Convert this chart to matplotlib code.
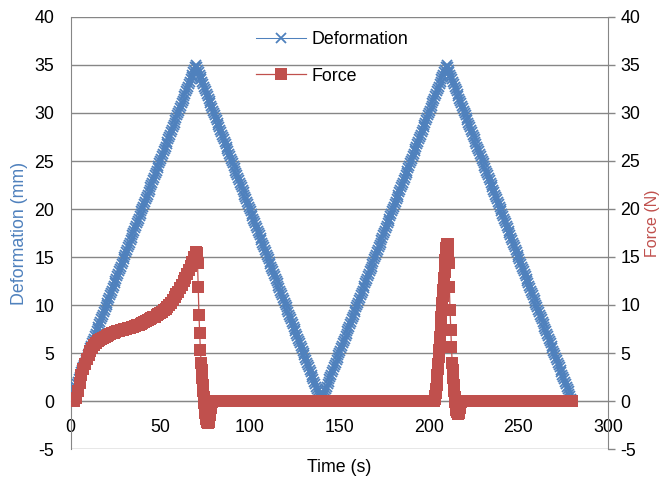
import matplotlib
matplotlib.use('Agg')
import matplotlib.pyplot as plt

plt.rcParams['font.family'] = ['Liberation Sans', 'DejaVu Sans']
plt.rcParams['axes.unicode_minus'] = False

# ---------------------------------------------------------------------------
# data
# ---------------------------------------------------------------------------
# one ramp of the deformation, sampled every 0.5 s (0.25 mm steps)
ramp_up = [
    0, 0.25, 0.5, 0.75, 1, 1.25, 1.5, 1.75, 2, 2.25,
    2.5, 2.75, 3, 3.25, 3.5, 3.75, 4, 4.25, 4.5, 4.75,
    5, 5.25, 5.5, 5.75, 6, 6.25, 6.5, 6.75, 7, 7.25,
    7.5, 7.75, 8, 8.25, 8.5, 8.75, 9, 9.25, 9.5, 9.75,
    10, 10.25, 10.5, 10.75, 11, 11.25, 11.5, 11.75, 12, 12.25,
    12.5, 12.75, 13, 13.25, 13.5, 13.75, 14, 14.25, 14.5, 14.75,
    15, 15.25, 15.5, 15.75, 16, 16.25, 16.5, 16.75, 17, 17.25,
    17.5, 17.75, 18, 18.25, 18.5, 18.75, 19, 19.25, 19.5, 19.75,
    20, 20.25, 20.5, 20.75, 21, 21.25, 21.5, 21.75, 22, 22.25,
    22.5, 22.75, 23, 23.25, 23.5, 23.75, 24, 24.25, 24.5, 24.75,
    25, 25.25, 25.5, 25.75, 26, 26.25, 26.5, 26.75, 27, 27.25,
    27.5, 27.75, 28, 28.25, 28.5, 28.75, 29, 29.25, 29.5, 29.75,
    30, 30.25, 30.5, 30.75, 31, 31.25, 31.5, 31.75, 32, 32.25,
    32.5, 32.75, 33, 33.25, 33.5, 33.75, 34, 34.25, 34.5, 34.75,
    35,
]
ramp_down = ramp_up[::-1]
deformation = ramp_up + ramp_down[1:] + ramp_up[1:] + ramp_down[1:]
def_time = [i * 0.5 for i in range(len(deformation))]

# first loading: 0..70 s
load1_time = list(range(0, 71))
load1_force = [
    0, 0, 0, 0.3, 1.0, 1.9, 2.7, 3.3, 3.9, 4.4,
    4.8, 5.2, 5.5, 5.8, 6.0, 6.2, 6.35, 6.5, 6.6, 6.7,
    6.8, 6.9, 7.0, 7.05, 7.1, 7.2, 7.25, 7.3, 7.35, 7.4,
    7.5, 7.55, 7.6, 7.65, 7.7, 7.75, 7.8, 7.9, 7.95, 8.05,
    8.15, 8.2, 8.3, 8.4, 8.5, 8.6, 8.7, 8.8, 8.95, 9.05,
    9.2, 9.3, 9.45, 9.6, 9.8, 10.0, 10.25, 10.5, 10.8, 11.1,
    11.4, 11.75, 12.1, 12.45, 12.8, 13.2, 13.6, 14.05, 14.5, 15.0,
    15.5,
]
# first unloading drop
drop1_time = [70.4, 70.8, 71.2, 71.6, 72.0, 72.4, 72.8, 73.1, 73.4, 73.7,
              74.0, 74.3, 74.6, 74.9, 75.2, 75.5, 75.8, 76.1, 76.4, 76.7,
              77.0, 77.3, 77.6, 77.9, 78.2, 78.5, 78.8, 79.1]
drop1_force = [15.4, 14.4, 11.9, 9.0, 7.1, 5.3, 4.0, 3.2, 2.4, 1.7,
               1.0, 0.4, -0.2, -0.7, -1.2, -1.6, -1.9, -2.15, -2.3, -2.3,
               -2.2, -1.9, -1.5, -1.1, -0.7, -0.4, -0.15, 0.0]
rest1_time = list(range(80, 203))
rest1_force = [0.0] * 123

# second loading peak
load2_time = [203.0, 203.25, 203.5, 203.75, 204.0, 204.25, 204.5, 204.75,
              205.0, 205.25, 205.5, 205.75, 206.0, 206.25, 206.5, 206.75,
              207.0, 207.25, 207.5, 207.75, 208.0, 208.25, 208.5, 208.75,
              209.0, 209.25, 209.5, 209.75, 210.0]
load2_force = [0.0, 0.2, 0.5, 0.8, 1.2, 1.7, 2.2, 2.7,
               3.3, 3.9, 4.6, 5.3, 6.0, 6.7, 7.4, 8.1,
               8.8, 9.5, 10.2, 10.9, 11.6, 12.2, 12.8, 13.4,
               14.0, 14.7, 15.3, 15.9, 16.4]
drop2_time = [210.4, 210.7, 211.0, 211.4, 211.8, 212.2, 212.6, 213.0, 213.3, 213.6,
              213.9, 214.2, 214.5, 214.8, 215.1, 215.4, 215.7, 216.0, 216.3, 216.6,
              216.9, 217.2, 217.5, 217.8, 218.1]
drop2_force = [16.4, 15.6, 14.4, 11.9, 9.5, 7.4, 5.6, 4.0, 3.2, 2.4,
               1.7, 1.0, 0.4, -0.1, -0.5, -0.9, -1.15, -1.3, -1.35, -1.25,
               -1.0, -0.7, -0.4, -0.15, 0.0]
rest2_time = list(range(219, 281))
rest2_force = [0.0] * 62

force_time = load1_time + drop1_time + rest1_time + load2_time + drop2_time + rest2_time
force = load1_force + drop1_force + rest1_force + load2_force + drop2_force + rest2_force

x_ticks = [0, 50, 100, 150, 200, 250, 300]
y_ticks = [-5, 0, 5, 10, 15, 20, 25, 30, 35, 40]

blue = '#4F81BD'
red = '#C0504D'
grey = '#868686'

# ---------------------------------------------------------------------------
# figure
# ---------------------------------------------------------------------------
W, H = 668, 484
fig = plt.figure(figsize=(W / 100, H / 100), dpi=100)
L, R, T, B = 70.7, 608, 17, 449
ax = fig.add_axes([L / W, (H - B) / H, (R - L) / W, (B - T) / H])
ax2 = ax.twinx()

l1, = ax.plot(def_time, deformation, color=blue, marker='x', ms=7.5, mew=1.3,
              lw=0.75, label='Deformation', zorder=3)
l2, = ax2.plot(force_time, force, color=red, marker='s', ms=8.0, mew=0,
               lw=0.9, label='Force', zorder=3)

ax.set_xlim(0, 300)
ax.set_ylim(-5, 40)
ax2.set_ylim(-5, 40)
ax.set_xticks(x_ticks)
ax.set_yticks(y_ticks)
ax2.set_yticks(y_ticks)

ax.grid(axis='y', color=grey, lw=1.0)
ax.set_axisbelow(True)

for s in ['top', 'right']:
    ax.spines[s].set_visible(False)
ax.spines['left'].set_color(grey)
ax.spines['bottom'].set_position(('data', 0))
ax.spines['bottom'].set_color(grey)
for s in ['top', 'left', 'bottom']:
    ax2.spines[s].set_visible(False)
ax2.spines['right'].set_color(grey)

fs = 12.8
ax.tick_params(axis='x', length=0, pad=13, labelsize=fs)
ax.tick_params(axis='y', length=0, pad=12, labelsize=fs)
ax2.tick_params(axis='y', length=5, width=1, color=grey, pad=4, labelsize=fs)

fig.text(20 / W, 1 - 233 / H, 'Deformation (mm)', color=blue, rotation=90,
         ha='center', va='center', fontsize=fs)
fig.text(652 / W, 1 - 223 / H, 'Force (N)', color=red, rotation=90,
         ha='center', va='center', fontsize=11.5)
fig.text(339 / W, 1 - 467 / H, 'Time (s)', ha='center', va='center', fontsize=fs)

ax2.legend([l1, l2], ['Deformation', 'Force'], loc='upper left',
           bbox_to_anchor=(256 / W, 1 - 31 / H), bbox_transform=fig.transFigure,
           frameon=False, handlelength=2.8, handletextpad=0.33,
           labelspacing=1.1, fontsize=fs, borderpad=0, borderaxespad=0)

fig.savefig('out.png', dpi=100)
